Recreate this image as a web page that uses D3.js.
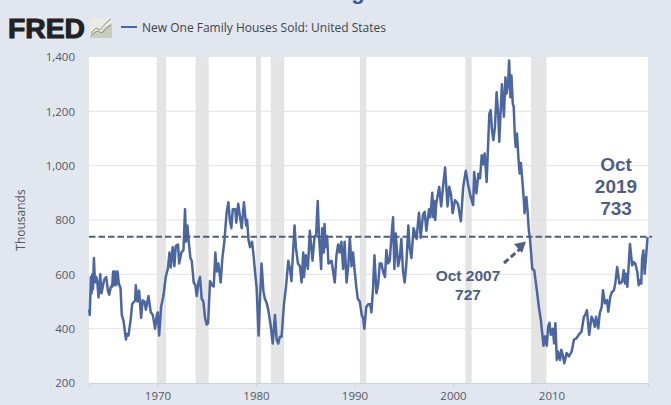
<!DOCTYPE html>
<html><head><meta charset="utf-8">
<script src="https://cdn.jsdelivr.net/npm/d3@7"></script>
<style>html,body{margin:0;padding:0;background:#e1e6ef;overflow:hidden}svg{display:block}</style>
</head><body><svg id="c" width="671" height="405"></svg>
<script>
const years=[1963.07,1963.13,1963.24,1963.31,1963.38,1963.45,1963.55,1963.65,1963.78,1963.88,1964.02,1964.19,1964.32,1964.59,1964.8,1964.97,1965.1,1965.27,1965.4,1965.5,1965.6,1965.7,1965.81,1965.95,1966.08,1966.25,1966.38,1966.55,1966.8,1966.9,1967.06,1967.3,1967.43,1967.74,1967.8,1967.97,1968.14,1968.34,1968.5,1968.68,1968.82,1969.09,1969.32,1969.53,1969.76,1969.93,1970.03,1970.17,1970.37,1970.6,1970.84,1971.05,1971.22,1971.35,1971.55,1971.72,1971.86,1972.09,1972.2,1972.43,1972.64,1972.8,1972.9,1973.04,1973.18,1973.34,1973.48,1973.68,1973.85,1973.99,1974.16,1974.32,1974.49,1974.66,1974.83,1975.0,1975.14,1975.34,1975.54,1975.71,1975.88,1976.01,1976.18,1976.42,1976.59,1976.79,1977.03,1977.2,1977.35,1977.5,1977.65,1977.9,1978.0,1978.2,1978.35,1978.55,1978.78,1979.0,1979.1,1979.25,1979.4,1979.6,1979.73,1979.93,1980.07,1980.27,1980.4,1980.57,1980.75,1980.9,1981.08,1981.25,1981.5,1981.7,1981.93,1982.1,1982.26,1982.43,1982.6,1982.84,1983.04,1983.28,1983.45,1983.6,1983.92,1984.05,1984.26,1984.46,1984.63,1984.8,1984.87,1985.07,1985.27,1985.47,1985.74,1985.95,1986.1,1986.27,1986.4,1986.62,1986.72,1986.88,1986.96,1987.08,1987.22,1987.36,1987.67,1988.0,1988.17,1988.34,1988.5,1988.67,1988.85,1989.0,1989.2,1989.37,1989.53,1989.7,1989.86,1990.0,1990.2,1990.34,1990.54,1990.74,1990.88,1991.0,1991.2,1991.4,1991.6,1991.72,1991.89,1992.03,1992.23,1992.4,1992.57,1992.74,1992.9,1993.1,1993.24,1993.41,1993.58,1993.78,1993.92,1994.05,1994.19,1994.43,1994.6,1994.76,1994.93,1995.1,1995.27,1995.47,1995.6,1995.78,1996.0,1996.3,1996.55,1996.72,1996.96,1997.13,1997.3,1997.57,1997.7,1997.9,1998.0,1998.1,1998.2,1998.3,1998.6,1998.8,1998.99,1999.2,1999.45,1999.62,1999.8,1999.97,2000.2,2000.5,2000.8,2001.04,2001.3,2001.54,2001.8,2002.05,2002.15,2002.38,2002.58,2002.75,2002.92,2003.05,2003.22,2003.42,2003.56,2003.69,2003.83,2003.96,2004.1,2004.26,2004.43,2004.6,2004.7,2004.83,2004.97,2005.17,2005.33,2005.43,2005.6,2005.7,2005.83,2005.94,2006.07,2006.17,2006.27,2006.37,2006.5,2006.64,2006.77,2006.9,2007.04,2007.17,2007.27,2007.45,2007.58,2007.7,2007.8,2007.93,2008.05,2008.25,2008.52,2008.72,2008.93,2009.06,2009.19,2009.33,2009.53,2009.66,2009.8,2009.93,2010.13,2010.27,2010.4,2010.54,2010.67,2010.87,2011.0,2011.17,2011.3,2011.54,2011.79,2012.05,2012.28,2012.55,2012.75,2013.05,2013.29,2013.42,2013.6,2013.83,2014.07,2014.23,2014.4,2014.53,2014.75,2014.9,2015.1,2015.23,2015.43,2015.64,2015.77,2015.97,2016.14,2016.34,2016.5,2016.67,2016.9,2017.17,2017.34,2017.47,2017.57,2017.7,2017.85,2017.97,2018.19,2018.35,2018.52,2018.72,2018.85,2018.95,2019.12,2019.2,2019.33,2019.46,2019.6,2019.75];
const sales=[470,450,590,530,600,545,660,570,590,575,515,600,530,580,590,540,525,555,555,610,560,610,560,610,565,550,450,430,360,380,375,440,490,505,560,500,540,440,505,500,470,520,460,450,400,450,460,375,480,520,590,620,680,625,700,630,705,710,640,680,690,840,720,780,720,660,650,570,560,520,570,590,510,500,440,415,420,575,560,555,680,610,640,570,660,720,830,865,800,770,840,840,790,860,820,770,865,780,800,725,700,720,680,600,550,375,500,640,540,510,495,470,410,345,450,360,345,370,370,490,550,650,620,575,780,700,640,630,570,680,590,670,620,760,650,740,740,870,740,620,770,680,785,700,740,640,650,570,670,710,680,720,620,720,570,630,735,630,680,620,550,510,500,450,440,400,480,490,490,460,550,670,530,560,640,640,610,590,690,640,650,750,810,620,750,630,660,730,610,570,640,780,700,660,770,730,827,735,820,830,760,840,810,900,810,870,800,860,922,850,922,993,850,922,895,825,873,860,795,922,981,930,885,855,977,898,970,953,1038,1005,1045,940,1070,1190,1204,1130,1094,1142,1270,1185,1088,1190,1300,1180,1325,1265,1300,1387,1252,1332,1228,1216,1118,1069,1118,1032,971,1010,947,885,825,885,830,763,737,680,620,615,540,480,430,383,337,372,337,407,422,377,400,346,420,285,316,285,322,298,273,310,298,316,359,365,377,389,444,450,468,377,444,432,407,444,401,456,480,541,493,505,462,517,535,541,572,627,566,572,615,566,602,554,640,712,633,645,639,608,560,578,566,657,688,602,663,737,743];
const gridValues=[200,400,600,800,1000,1200,1400];
const tickYears=[1970,1980,1990,2000,2010];
const recessions=[[1969.92,1970.87],[1973.87,1975.2],[1980.0,1980.5],[1981.5,1982.87],[1990.55,1991.2],[2001.25,2001.9],[2007.92,2009.5]];
const refValue=[738];
const legendLabel="New One Family Houses Sold: United States";
const axisLabel="Thousands";
const noteA=["Oct","2019","733"];
const noteB=["Oct 2007","727"];

const L=89,R=648,T=57,B=383;
const x=d3.scaleLinear().domain([1963.05,2019.8]).range([L,R]);
const y=d3.scaleLinear().domain([200,1400]).range([B,T]);
const svg=d3.select("#c");
const ink="#4f5f84", lineC="#4c66a0", txt="#55595f";
svg.append("text").attr("x",358).attr("y",-1).attr("text-anchor","middle").attr("font-family","'Liberation Sans'").attr("font-weight",700).attr("font-size",22).attr("fill","#3f5a96").text("g");
svg.append("rect").attr("x",L).attr("y",T).attr("width",R-L).attr("height",B-T).attr("fill","#fff");
svg.append("g").selectAll("rect").data(recessions).join("rect")
 .attr("x",d=>x(d[0])).attr("width",d=>x(d[1])-x(d[0])).attr("y",T).attr("height",B-T).attr("fill","#e4e4e4");
svg.append("g").selectAll("line").data(gridValues.slice(1,-1)).join("line")
 .attr("x1",L).attr("x2",R).attr("y1",d=>y(d)).attr("y2",d=>y(d)).attr("stroke","#e2e2e2").attr("stroke-width",1);

const yAxis=d3.axisLeft(y).tickValues(gridValues).tickFormat(d3.format(",")).tickSize(0).tickPadding(14);
const gy=svg.append("g").attr("transform",`translate(${L},0)`).call(yAxis);
gy.select(".domain").remove();
gy.selectAll("text").attr("font-family","'Open Sans'").attr("font-size",11.5).attr("fill",txt).attr("dy","0.33em");
const xAxis=d3.axisBottom(x).tickValues(tickYears).tickFormat(d3.format("d")).tickSize(4).tickPadding(5);
const gx=svg.append("g").attr("transform",`translate(0,${B})`).call(xAxis);
gx.select(".domain").attr("stroke","#ccd3dd");
gx.selectAll("line").attr("stroke","#ccd3dd");
gx.selectAll("text").attr("font-family","'Open Sans'").attr("font-size",11.5).attr("fill",txt);

const line=d3.line().x((d,i)=>x(years[i])).y(d=>y(d));
svg.append("path").attr("d",line(sales)).attr("fill","none").attr("stroke",lineC).attr("stroke-width",2.5).attr("stroke-linejoin","round");

svg.append("g").selectAll("line").data(refValue).join("line")
 .attr("x1",L).attr("x2",652).attr("y1",d=>y(d)).attr("y2",d=>y(d))
 .attr("stroke",ink).attr("stroke-width",2).attr("stroke-dasharray","6.5 3");

svg.append("text").attr("transform","translate(25,220) rotate(-90)").attr("text-anchor","middle")
 .attr("font-family","'Open Sans'").attr("font-size",12).attr("fill",txt).text(axisLabel);

// logo
svg.append("text").attr("x",8).attr("y",37.5).attr("font-family","'Liberation Sans'").attr("font-weight",700)
 .attr("font-size",27).attr("fill","#222").attr("stroke","#222").attr("stroke-width",1).attr("textLength",77).attr("lengthAdjust","spacingAndGlyphs").text("FRED");
const ic=svg.append("g");
ic.append("rect").attr("x",90).attr("y",18).attr("width",22).attr("height",20).attr("fill","#e9ebe6");
ic.append("path").attr("d",d3.area().x(d=>90+d[0]).y0(38).y1(d=>18+d[1])([[0,17],[6,13],[10,15],[15,9],[22,5]])).attr("fill","#c9cdbe");
ic.append("path").attr("d",d3.line()([[91,33],[96,28],[100,30],[106,23],[111,19]])).attr("fill","none").attr("stroke","#8b927b").attr("stroke-width",1);
ic.append("path").attr("d",d3.line()([[91,35],[97,31],[102,33],[107,28],[111,25]])).attr("fill","none").attr("stroke","#8b927b").attr("stroke-width",1);

// legend
svg.append("line").attr("x1",121).attr("x2",137).attr("y1",27).attr("y2",27).attr("stroke",lineC).attr("stroke-width",2);
svg.append("text").attr("x",142).attr("y",32).attr("font-family","'Open Sans'").attr("font-size",12).attr("fill","#3f444b").text(legendLabel);

// annotations
const anno=svg.append("g").attr("font-family","'Liberation Sans'").attr("font-weight",700).attr("fill",ink).attr("text-anchor","middle");
anno.selectAll("text.a").data(noteA).join("text").attr("class","a").attr("x",616).attr("y",(d,i)=>171+i*22).attr("font-size",19).text(d=>d);
anno.selectAll("text.b").data(noteB).join("text").attr("class","b").attr("x",468).attr("y",(d,i)=>281+i*19).attr("font-size",15.5).text(d=>d);
svg.append("path").attr("d",d3.line()([[504,263],[520,249]])).attr("stroke",ink).attr("stroke-width",3).attr("stroke-dasharray","6 3").attr("fill","none");
svg.append("path").attr("d",d3.line()([[526,241.5],[522,253],[514,244]])+"Z").attr("fill",ink);
</script></body></html>
